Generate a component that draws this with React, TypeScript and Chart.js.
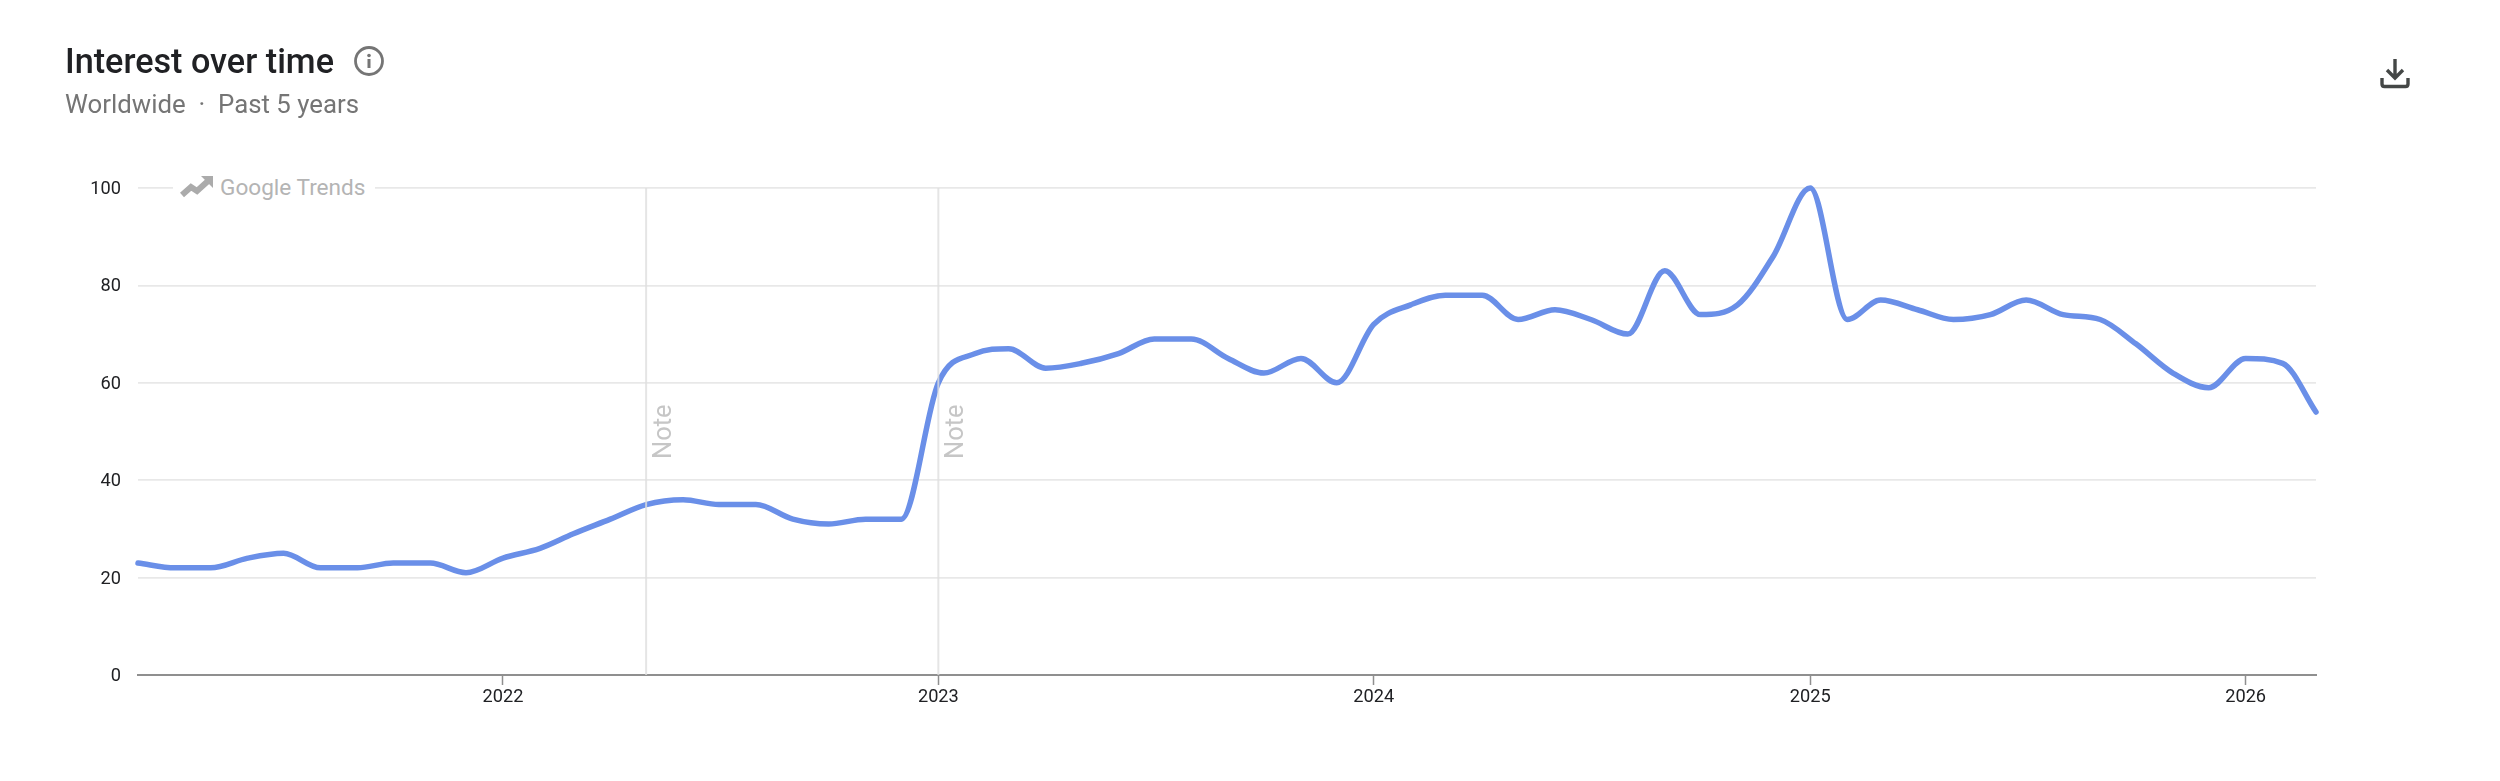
import React, { useEffect, useRef } from "react";
import { Chart, registerables } from "chart.js";

Chart.register(...registerables);

const startYear = 2021;
const startMonth = 2; // March 2021
const interest = [
  23, 22, 22, 24, 25, 22, 22, 23, 23, 21, 24, 26, 29, 32, 35, 36, 35, 35, 32, 31, 32,
  32, 60, 66, 67, 63, 64, 66, 69, 69, 65, 62, 65, 60, 72, 76, 78, 78, 73, 75, 73, 70,
  83, 74, 76, 86, 100, 73, 77, 75, 73, 74, 77, 74, 73, 68, 62, 59, 65, 64, 54,
];
const yearTicks = [2022, 2023, 2024, 2025, 2026];
const noteMonths = [14, 22];
const yTicks = [0, 20, 40, 60, 80, 100];

const monthTime = (i: number) => Date.UTC(startYear, startMonth + i, 1);
const points = interest.map((y, i) => ({ x: monthTime(i), y }));

const notesPlugin = {
  id: "notes",
  afterDatasetsDraw(chart: any) {
    const { ctx, chartArea, scales } = chart;
    ctx.save();
    noteMonths.forEach((m) => {
      const x = scales.x.getPixelForValue(monthTime(m));
      ctx.strokeStyle = "rgba(222,222,222,0.8)";
      ctx.lineWidth = 2;
      ctx.beginPath();
      ctx.moveTo(x, chartArea.top);
      ctx.lineTo(x, chartArea.bottom);
      ctx.stroke();
      ctx.save();
      ctx.translate(x + 18.5, 459);
      ctx.rotate(-Math.PI / 2);
      ctx.fillStyle = "#c6c6c6";
      ctx.font = "400 25.5px Roboto";
      ctx.textAlign = "left";
      ctx.textBaseline = "middle";
      ctx.fillText("Note", 0, 0);
      ctx.restore();
    });
    ctx.restore();
  },
};

export default function App() {
  const canvasRef = useRef<HTMLCanvasElement>(null);
  useEffect(() => {
    document.body.style.background = "#fff";
    const chart = new Chart(canvasRef.current as HTMLCanvasElement, {
      type: "line",
      data: {
        datasets: [
          {
            label: "Interest over time",
            data: points,
            borderColor: "#6a8fe8",
            borderWidth: 5.5,
            pointRadius: 0,
            cubicInterpolationMode: "monotone",
            clip: false,
            borderCapStyle: "round",
            borderJoinStyle: "round",
          },
        ],
      },
      options: {
        animation: false,
        responsive: false,
        layout: { padding: { top: 188, right: 184, bottom: 0, left: 0 } },
        plugins: { legend: { display: false }, tooltip: { enabled: false } },
        scales: {
          x: {
            type: "linear",
            min: monthTime(0),
            max: monthTime(interest.length - 1),
            afterBuildTicks: (axis: any) => {
              axis.ticks = yearTicks.map((y) => ({ value: Date.UTC(y, 0, 1) }));
            },
            afterFit: (axis: any) => {
              axis.height = 106;
            },
            border: { display: true, color: "#8f8f8f", width: 2 },
            grid: { drawOnChartArea: false, drawTicks: true, tickLength: 10, tickColor: "#8f8f8f", tickWidth: 1.5 },
            ticks: {
              autoSkip: false,
              maxRotation: 0,
              padding: 2,
              color: "#202124",
              font: { family: "Roboto", size: 18.2 },
              callback: (v: any) => String(new Date(v).getUTCFullYear()),
            },
          },
          y: {
            min: 0,
            max: 100,
            afterBuildTicks: (axis: any) => {
              axis.ticks = yTicks.map((value) => ({ value }));
            },
            afterFit: (axis: any) => {
              axis.width = 138;
            },
            border: { display: false },
            grid: { color: "#e8e8e8", lineWidth: 1.8, drawTicks: false },
            ticks: {
              padding: 17,
              labelOffset: 1.5,
              color: "#202124",
              font: { family: "Roboto", size: 18.2 },
            },
          },
        },
      },
      plugins: [notesPlugin],
    } as any);
    return () => chart.destroy();
  }, []);

  return (
    <div style={{ position: "absolute", left: 0, top: 0, width: 2500, height: 781, background: "#fff", overflow: "hidden" }}>
      <canvas ref={canvasRef} width={2500} height={781} style={{ position: "absolute", left: 0, top: 0, display: "block" }} />
      <div style={{ position: "absolute", left: 65, top: 42, font: "500 34.2px Roboto", color: "#202124", whiteSpace: "nowrap", lineHeight: "38px" }}>
        Interest over time
      </div>
      <svg style={{ position: "absolute", left: 354, top: 46 }} width={30} height={30} viewBox="0 0 30 30">
        <circle cx={15} cy={15} r={13.5} fill="none" stroke="#757575" strokeWidth={2.8} />
        <circle cx={15} cy={9.5} r={1.8} fill="#757575" />
        <rect x={13.5} y={13} width={3} height={9} fill="#757575" />
      </svg>
      <div style={{ position: "absolute", left: 65, top: 88, font: "400 25.8px Roboto", color: "#757575", whiteSpace: "pre", lineHeight: "32px" }}>
        {"Worldwide  ·  Past 5 years"}
      </div>
      <div style={{ position: "absolute", left: 173, top: 170, width: 202, height: 36, background: "#fff" }} />
      <svg style={{ position: "absolute", left: 180, top: 176 }} width={34} height={22} viewBox="0 0 34 22">
        <path d="M2 19 L11 11 L17 15 L28 5" fill="none" stroke="#ababab" strokeWidth={6} />
        <path d="M21 0 L33 0 L33 12 Z" fill="#ababab" />
      </svg>
      <div style={{ position: "absolute", left: 220, top: 172.5, font: "400 22.6px Roboto", color: "#b4b4b4", whiteSpace: "nowrap", lineHeight: "30px" }}>
        Google Trends
      </div>
      <svg style={{ position: "absolute", left: 2380, top: 58 }} width={30} height={31} viewBox="0 0 30 31">
        <path d="M15 1 V19 M7 12 L15 20 L23 12" fill="none" stroke="#444746" strokeWidth={3.4} />
        <path d="M2 20 V26 Q2 28.5 4.5 28.5 H25.5 Q28 28.5 28 26 V20" fill="none" stroke="#444746" strokeWidth={3.4} />
      </svg>
    </div>
  );
}
